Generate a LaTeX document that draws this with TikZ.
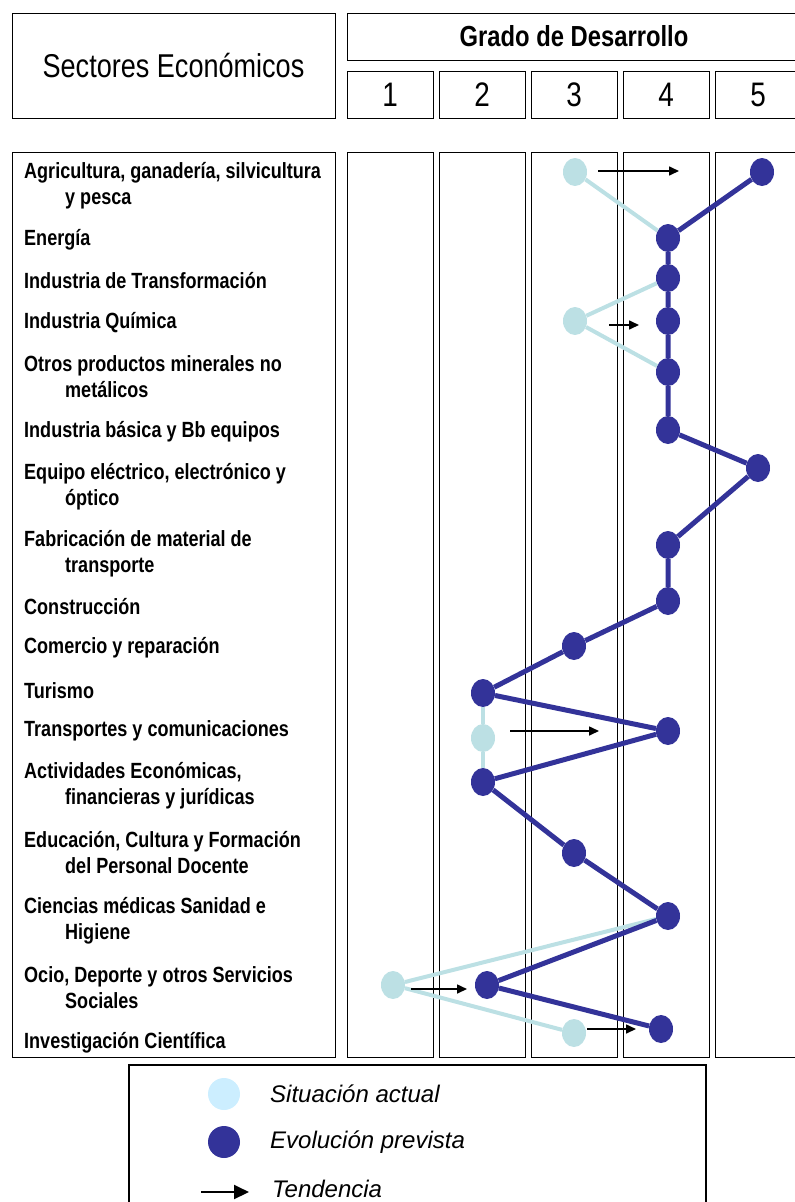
\documentclass[tikz,border=0pt]{standalone}
\usepackage{fontspec}
\setmainfont{Liberation Sans}
\newfontfamily\narrowfont[FakeStretch=0.82]{Liberation Sans}
\usetikzlibrary{arrows.meta,shapes.geometric}

\definecolor{actual}{HTML}{BCE0E4}
\definecolor{actualleg}{HTML}{CCEEFF}
\definecolor{prevista}{HTML}{333399}

\tikzset{
  box/.style={draw, line width=0.9pt},
  sector/.style={anchor=west, align=left, inner sep=0pt, yshift=-2pt,
    font=\narrowfont\bfseries\fontsize{22}{26}\selectfont},
  grade/.style={font=\narrowfont\fontsize{34}{34}\selectfont},
  actualdot/.style={ellipse, fill=actual, minimum width=24pt, minimum height=28pt, inner sep=0pt},
  evodot/.style={ellipse, fill=prevista, minimum width=24pt, minimum height=28pt, inner sep=0pt},
  actualline/.style={actual, line width=4pt},
  evoline/.style={prevista, line width=5pt},
  trend/.style={line width=1.6pt, -{Triangle[length=10pt,width=9pt]}},
  legtext/.style={anchor=west, inner sep=0pt, font=\fontsize{24}{24}\selectfont\itshape}
}

\begin{document}
\begin{tikzpicture}[x=1pt, y=-1pt]
  \useasboundingbox (0,0) rectangle (795,1202);
  \clip (0,0) rectangle (795,1202);

  % Header
  \draw[box] (12,13) rectangle (335,118);
  \node[font=\narrowfont\fontsize{33}{33}\selectfont] (sectores) at (173.5,65.5) {Sectores Económicos};
  \draw[box] (347,13) rectangle (801,60);
  \node[font=\narrowfont\bfseries\fontsize{29}{29}\selectfont] (grado) at (574,36.5) {Grado de Desarrollo};

  % Grade columns
  \foreach \g/\x in {1/347, 2/439, 3/531, 4/623, 5/715} {
    \draw[box] (\x,71) rectangle ++(86,47);
    \node[grade] (g\g) at (\x+43,94.5) {\g};
    \draw[box] (\x,152) rectangle ++(86,905);
  }

  % Sector labels
  \draw[box] (12,152) rectangle (335,1057);
  \node[sector] (l1) at (24,184) {Agricultura, ganadería, silvicultura\\\hspace*{41pt}y pesca};
  \node[sector] (l2) at (24,238) {Energía};
  \node[sector] (l3) at (24,279) {Industria de Transformación};
  \node[sector] (l4) at (24,321) {Industria Química};
  \node[sector] (l5) at (24,375) {Otros productos minerales no\\\hspace*{41pt}metálicos};
  \node[sector] (l6) at (24,430) {Industria básica y Bb equipos};
  \node[sector] (l7) at (24,484.5) {Equipo eléctrico, electrónico y\\\hspace*{41pt}óptico};
  \node[sector] (l8) at (24,551.5) {Fabricación de material de\\\hspace*{41pt}transporte};
  \node[sector] (l9) at (24,605) {Construcción};
  \node[sector] (l10) at (24,646) {Comercio y reparación};
  \node[sector] (l11) at (24,689) {Turismo};
  \node[sector] (l12) at (24,729) {Transportes y comunicaciones};
  \node[sector] (l13) at (24,784) {Actividades Económicas,\\\hspace*{41pt}financieras y jurídicas};
  \node[sector] (l14) at (24,851) {Educación, Cultura y Formación\\\hspace*{41pt}del Personal Docente};
  \node[sector] (l15) at (24,919) {Ciencias médicas Sanidad e\\\hspace*{41pt}Higiene};
  \node[sector] (l16) at (24,986) {Ocio, Deporte y otros Servicios\\\hspace*{41pt}Sociales};
  \node[sector] (l17) at (24,1041) {Investigación Científica};

  % Situacion actual
  \node[actualdot] (s1) at (575,172) {};
  \node[actualdot] (s4) at (575,321) {};
  \node[actualdot] (s12) at (483,738) {};
  \node[actualdot] (s16) at (393,985) {};
  \node[actualdot] (s17) at (574,1033) {};

  % Evolucion prevista
  \node[evodot] (e1) at (762,172) {};
  \node[evodot] (e2) at (668,238) {};
  \node[evodot] (e3) at (668,278) {};
  \node[evodot] (e4) at (668,321) {};
  \node[evodot] (e5) at (668,372) {};
  \node[evodot] (e6) at (668,430) {};
  \node[evodot] (e7) at (758,468) {};
  \node[evodot] (e8) at (668,545) {};
  \node[evodot] (e9) at (668,601) {};
  \node[evodot] (e10) at (574,646) {};
  \node[evodot] (e11) at (483,693) {};
  \node[evodot] (e12) at (668,731) {};
  \node[evodot] (e13) at (483,782) {};
  \node[evodot] (e14) at (574,853) {};
  \node[evodot] (e15) at (668,916) {};
  \node[evodot] (e16) at (487,985) {};
  \node[evodot] (e17) at (661,1029) {};

  \draw[actualline] (s1) -- (e2);
  \draw[actualline] (e3) -- (s4) -- (e5);
  \draw[actualline] (e11) -- (s12) -- (e13);
  \draw[actualline] (e15) -- (s16) -- (s17);

  \draw[evoline] (e1) -- (e2) -- (e3) -- (e4) -- (e5) -- (e6) -- (e7) -- (e8) -- (e9)
    -- (e10) -- (e11) -- (e12) -- (e13) -- (e14) -- (e15) -- (e16) -- (e17);

  % Tendencia
  \coordinate (t1a) at (598,171);  \coordinate (t1b) at (679,171);
  \coordinate (t4a) at (609,325);  \coordinate (t4b) at (639,325);
  \coordinate (t12a) at (510,731); \coordinate (t12b) at (599,731);
  \coordinate (t16a) at (411,989); \coordinate (t16b) at (467,989);
  \coordinate (t17a) at (587,1029); \coordinate (t17b) at (636,1029);
  \draw[trend] (t1a) -- (t1b);
  \draw[trend] (t4a) -- (t4b);
  \draw[trend] (t12a) -- (t12b);
  \draw[trend] (t16a) -- (t16b);
  \draw[trend] (t17a) -- (t17b);

  % Legend
  \draw[line width=1.5pt] (129,1065) rectangle (706,1230);
  \node[circle, fill=actualleg, minimum size=32pt, inner sep=0pt] (legactual) at (224,1094) {};
  \node[circle, fill=prevista, minimum size=32pt, inner sep=0pt] (legevo) at (224,1142) {};
  \coordinate (legta) at (201,1192); \coordinate (legtb) at (249,1192);
  \draw[trend, line width=2pt, -{Triangle[length=15pt,width=14pt]}] (legta) -- (legtb);
  \node[legtext] (legtxt1) at (270,1094) {Situación actual};
  \node[legtext] (legtxt2) at (270,1142) {Evolución prevista};
  \node[legtext] (legtxt3) at (272,1189) {Tendencia};
\end{tikzpicture}
\end{document}
